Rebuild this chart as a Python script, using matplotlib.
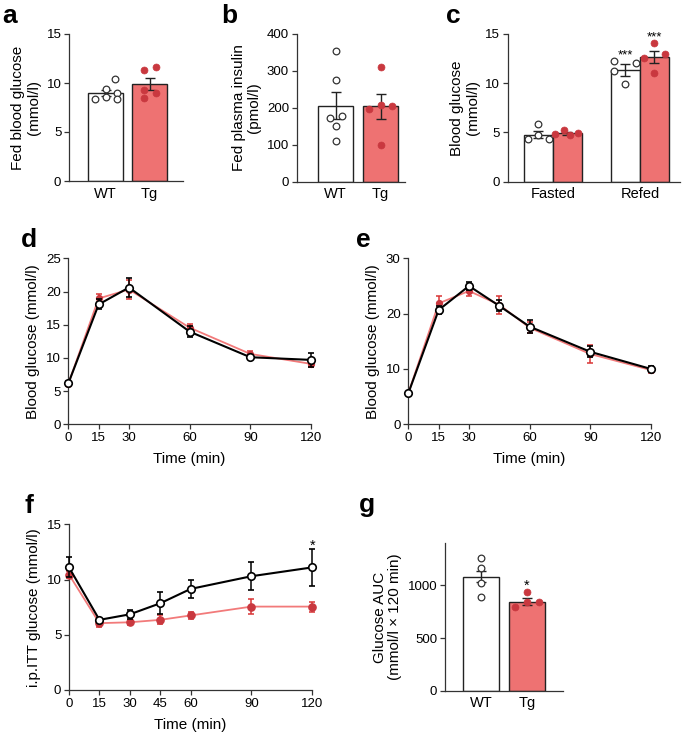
import matplotlib
matplotlib.use("Agg")
import matplotlib.pyplot as plt
import numpy as np

plt.rcParams['font.family'] = ['Liberation Sans', 'DejaVu Sans']
plt.rcParams['font.size'] = 9.5

# ---------------- data ----------------
groups = ["WT", "Tg"]
# a: fed blood glucose (mmol/l)
a_mean = [9.0, 9.9]
a_sem = [0.3, 0.65]
a_wt_pts = [8.37, 9.35, 8.6, 10.37, 8.95, 8.37]
a_wt_off = [-0.25, 0.01, 0.0, 0.22, 0.25, 0.27]
a_tg_pts = [11.3, 11.66, 9.25, 8.45, 9.0]
a_tg_off = [-0.13, 0.14, -0.13, -0.13, 0.14]

# b: fed plasma insulin (pmol/l)
b_mean = [206, 204]
b_sem = [37, 33]
b_wt_pts = [354, 275, 173, 178, 151, 110]
b_wt_off = [0.0, 0.0, -0.12, 0.14, 0.0, 0.0]
b_tg_pts = [311, 196, 208, 205, 99]
b_tg_off = [0.0, -0.26, 0.0, 0.26, 0.0]

# c: blood glucose fasted / refed (mmol/l)
c_conditions = ["Fasted", "Refed"]
c_wt_mean = [4.75, 11.35]
c_wt_sem = [0.35, 0.6]
c_tg_mean = [4.9, 12.65]
c_tg_sem = [0.15, 0.6]
c_wt_pts = [[4.3, 5.86, 4.74, 4.3], [12.26, 11.24, 9.89, 12.02]]
c_wt_off = [[-0.124, 0.0, 0.0, 0.12], [-0.128, -0.128, 0.0, 0.12]]
c_tg_pts = [[4.8, 5.25, 4.75, 4.9], [14.05, 12.53, 12.94, 11.07]]
c_tg_off = [[-0.14, -0.045, 0.03, 0.12], [0.0, -0.123, 0.126, 0.0]]
c_sig = ["***", "***"]

# d: glucose tolerance (mmol/l)
d_time = [0, 15, 30, 60, 90, 120]
d_wt = [6.15, 18.05, 20.6, 13.95, 10.1, 9.7]
d_wt_err = [0.3, 0.75, 1.4, 0.8, 0.3, 1.0]
d_tg = [6.1, 18.95, 20.3, 14.55, 10.6, 9.1]
d_tg_err = [0.3, 0.7, 1.45, 0.5, 0.5, 0.5]

# e: glucose tolerance (mmol/l)
e_time = [0, 15, 30, 45, 60, 90, 120]
e_wt = [5.6, 20.65, 25.0, 21.4, 17.65, 13.1, 10.0]
e_wt_err = [0.3, 0.8, 0.8, 1.0, 1.2, 1.0, 0.6]
e_tg = [5.6, 21.85, 24.1, 21.6, 17.45, 12.7, 9.8]
e_tg_err = [0.3, 1.3, 1.0, 1.6, 1.0, 1.6, 0.6]

# f: i.p.ITT glucose (mmol/l)
f_time = [0, 15, 30, 45, 60, 90, 120]
f_wt = [11.1, 6.35, 6.85, 7.85, 9.15, 10.3, 11.1]
f_wt_err = [0.9, 0.2, 0.4, 1.0, 0.85, 1.25, 1.65]
f_tg = [10.45, 6.05, 6.13, 6.35, 6.75, 7.55, 7.55]
f_tg_err = [0.3, 0.35, 0.25, 0.4, 0.3, 0.65, 0.45]

# g: glucose AUC
g_mean = [1083, 847]
g_sem = [55, 35]
g_wt_pts = [1258, 1166, 1025, 892]
g_wt_off = [0.0, 0.0, 0.0, 0.0]
g_tg_pts = [936, 793, 841, 841]
g_tg_off = [0.0, -0.256, 0.0, 0.256]

# ---------------- style ----------------
W, H = 685, 734
fig = plt.figure(figsize=(W / 100, H / 100), dpi=100)

RED_FILL = '#EE7272'
RED_DOT = '#C9383F'
RED_LINE = '#F27A7A'
RED_ERR = '#DA3535'
AX_COL = '#333333'
TICK_FS = 9.5
LAB_FS = 11


def add_ax(l, t, r, b):
    ax = fig.add_axes([l / W, 1 - b / H, (r - l) / W, (b - t) / H])
    for s in ['top', 'right']:
        ax.spines[s].set_visible(False)
    for s in ['left', 'bottom']:
        ax.spines[s].set_color(AX_COL)
        ax.spines[s].set_linewidth(0.9)
    ax.tick_params(axis='both', colors=AX_COL, width=0.9, length=3.5,
                   labelsize=TICK_FS, labelcolor='black', pad=2)
    return ax


def bar_panel(ax, means, sems, pts_list, offs_list, width, ylim, yticks, ylabel, xlim):
    x = np.arange(len(means))
    ax.bar(x[0], means[0], width, color='white', edgecolor='#222222', linewidth=1.0, zorder=2)
    ax.bar(x[1], means[1], width, color=RED_FILL, edgecolor='#222222', linewidth=1.0, zorder=2)
    for i in range(2):
        ax.errorbar(x[i], means[i], yerr=sems[i], color='#222222', capsize=3.5,
                    elinewidth=1.0, capthick=1.0, zorder=4)
    ax.plot(x[0] + np.array(offs_list[0]), pts_list[0], 'o', ms=4.8, mfc='white',
            mec='#333333', mew=0.9, zorder=5, clip_on=False)
    ax.plot(x[1] + np.array(offs_list[1]), pts_list[1], 'o', ms=5.0, mfc=RED_DOT,
            mec=RED_DOT, mew=0.5, zorder=5, clip_on=False)
    ax.set_xlim(*xlim)
    ax.set_ylim(*ylim)
    ax.set_yticks(yticks)
    ax.set_xticks(x)
    ax.set_xticklabels(groups, fontsize=LAB_FS - 0.5)
    ax.tick_params(axis='x', length=0, pad=4)
    ax.set_ylabel(ylabel, fontsize=LAB_FS, linespacing=1.15)


# a
ax = add_ax(69, 34, 183, 181)
bar_panel(ax, a_mean, a_sem, [a_wt_pts, a_tg_pts], [a_wt_off, a_tg_off], 0.8,
          (0, 15), [0, 5, 10, 15], 'Fed blood glucose\n(mmol/l)', (-0.83, 1.76))

# b
ax = add_ax(296.7, 34, 405, 181.7)
bar_panel(ax, b_mean, b_sem, [b_wt_pts, b_tg_pts], [b_wt_off, b_tg_off], 0.78,
          (0, 400), [0, 100, 200, 300, 400], 'Fed plasma insulin\n(pmol/l)', (-0.86, 1.54))

# c
ax = add_ax(507.7, 34, 680, 181.7)
xc = np.arange(len(c_conditions))
bw = 0.333
ax.bar(xc - bw / 2, c_wt_mean, bw, color='white', edgecolor='#222222', linewidth=1.0, zorder=2)
ax.bar(xc + bw / 2, c_tg_mean, bw, color=RED_FILL, edgecolor='#222222', linewidth=1.0, zorder=2)
ax.errorbar(xc - bw / 2, c_wt_mean, yerr=c_wt_sem, fmt='none', ecolor='#222222', capsize=3.5,
            elinewidth=1.0, capthick=1.0, zorder=4)
ax.errorbar(xc + bw / 2, c_tg_mean, yerr=c_tg_sem, fmt='none', ecolor='#222222', capsize=3.5,
            elinewidth=1.0, capthick=1.0, zorder=4)
for i in range(len(c_conditions)):
    ax.plot(xc[i] - bw / 2 + np.array(c_wt_off[i]), c_wt_pts[i], 'o', ms=4.8, mfc='white',
            mec='#333333', mew=0.9, zorder=5, clip_on=False)
    ax.plot(xc[i] + bw / 2 + np.array(c_tg_off[i]), c_tg_pts[i], 'o', ms=5.0, mfc=RED_DOT,
            mec=RED_DOT, mew=0.5, zorder=5, clip_on=False)
ax.text(xc[1] - bw / 2, 12.5, c_sig[0], ha='center', va='baseline', fontsize=9.5)
ax.text(xc[1] + bw / 2, 14.35, c_sig[1], ha='center', va='baseline', fontsize=9.5,
        clip_on=False)
ax.set_xlim(-0.52, 1.46)
ax.set_ylim(0, 15)
ax.set_yticks([0, 5, 10, 15])
ax.set_xticks(xc)
ax.set_xticklabels(c_conditions, fontsize=LAB_FS - 0.5)
ax.tick_params(axis='x', length=0, pad=4)
ax.set_ylabel('Blood glucose\n(mmol/l)', fontsize=LAB_FS, linespacing=1.15)


def line_panel(ax, t, wt, wte, tg, tge, ylim, yticks, xticks, ylabel, tg_marker_size):
    ax.errorbar(t, tg, yerr=tge, color=RED_LINE, lw=1.3, ecolor=RED_ERR, elinewidth=1.1,
                capsize=2.5, capthick=1.1, marker='o', ms=tg_marker_size, mfc=RED_DOT,
                mec=RED_DOT, zorder=3, clip_on=False)
    ax.errorbar(t, wt, yerr=wte, color='black', lw=1.5, ecolor='black', elinewidth=1.1,
                capsize=2.5, capthick=1.1, marker='o', ms=5.4, mfc='white',
                mec='black', mew=1.2, zorder=4, clip_on=False)
    ax.set_xlim(0, 120)
    ax.set_ylim(*ylim)
    ax.set_yticks(yticks)
    ax.set_xticks(xticks)
    ax.set_xlabel('Time (min)', fontsize=LAB_FS, labelpad=6)
    ax.set_ylabel(ylabel, fontsize=LAB_FS, labelpad=4)


# d
ax = add_ax(68.3, 258.3, 311, 424.3)
line_panel(ax, d_time, d_wt, d_wt_err, d_tg, d_tg_err, (0, 25), [0, 5, 10, 15, 20, 25],
           [0, 15, 30, 60, 90, 120], 'Blood glucose (mmol/l)', 4.2)

# e
ax = add_ax(408.3, 258.3, 651, 424.3)
line_panel(ax, e_time, e_wt, e_wt_err, e_tg, e_tg_err, (0, 30), [0, 10, 20, 30],
           [0, 15, 30, 60, 90, 120], 'Blood glucose (mmol/l)', 4.2)

# f
ax = add_ax(69, 524.3, 312.3, 690)
line_panel(ax, f_time, f_wt, f_wt_err, f_tg, f_tg_err, (0, 15), [0, 5, 10, 15],
           [0, 15, 30, 45, 60, 90, 120], 'i.p.ITT glucose (mmol/l)', 5.2)
ax.text(120, 12.65, '*', ha='center', va='baseline', fontsize=10.5)

# g
ax = add_ax(445, 543.3, 563, 690.7)
bar_panel(ax, g_mean, g_sem, [g_wt_pts, g_tg_pts], [g_wt_off, g_tg_off], 0.79,
          (0, 1400), [0, 500, 1000], 'Glucose AUC\n(mmol/l \u00d7 120 min)', (-0.79, 1.79))
ax.text(1, 962, '*', ha='center', va='baseline', fontsize=10.5)

# panel letters
letters = [('a', 2, 23), ('b', 221, 23), ('c', 446, 23), ('d', 21, 247.5),
           ('e', 356, 247.5), ('f', 24, 513), ('g', 359, 512)]
for s, x, y in letters:
    fig.text(x / W, 1 - y / H, s, fontsize=19, fontweight='bold', ha='left', va='baseline')

fig.savefig('out.png', dpi=100)
